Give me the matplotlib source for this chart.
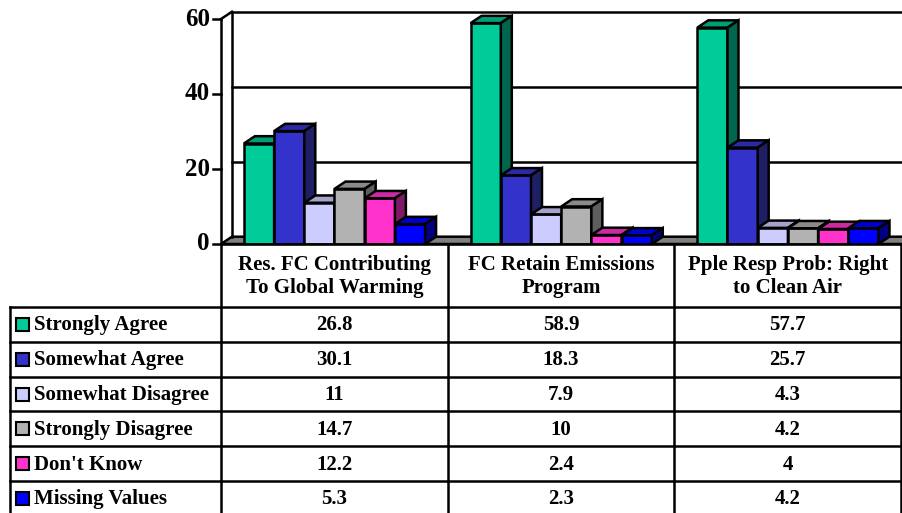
import matplotlib
matplotlib.use("Agg")
import matplotlib.pyplot as plt
from matplotlib.patches import Polygon, Rectangle

plt.rcParams['font.family'] = ['Liberation Serif', 'DejaVu Serif']
plt.rcParams['font.weight'] = 'bold'

# data
categories = ["Res. FC Contributing\nTo Global Warming",
              "FC Retain Emissions\nProgram",
              "Pple Resp Prob: Right\nto Clean Air"]
series = ["Strongly Agree", "Somewhat Agree", "Somewhat Disagree",
          "Strongly Disagree", "Don't Know", "Missing Values"]
strongly_agree = [26.8, 58.9, 57.7]
somewhat_agree = [30.1, 18.3, 25.7]
somewhat_disagree = [11, 7.9, 4.3]
strongly_disagree = [14.7, 10, 4.2]
dont_know = [12.2, 2.4, 4]
missing_values = [5.3, 2.3, 4.2]
values = [strongly_agree, somewhat_agree, somewhat_disagree,
          strongly_disagree, dont_know, missing_values]
labels_txt = [["26.8", "58.9", "57.7"], ["30.1", "18.3", "25.7"],
              ["11", "7.9", "4.3"], ["14.7", "10", "4.2"],
              ["12.2", "2.4", "4"], ["5.3", "2.3", "4.2"]]
yticks = [0, 20, 40, 60]

# front, top, side colours per series
front_c = ["#00CC99", "#3333CC", "#CCCCFF", "#B2B2B2", "#FF33CC", "#0000FF"]
top_c = ["#009E76", "#2A2AA3", "#A3A3CC", "#8A8A8A", "#CC2AA3", "#0000CC"]
side_c = ["#00664D", "#1F1F66", "#7A7A99", "#5E5E5E", "#7F1A66", "#000080"]

W, H = 902, 513
fig = plt.figure(figsize=(W / 100, H / 100), dpi=100)

# chart axes: front plane, x in category units, y in value units
x0, y0 = 221, 244
col_w = 226.7
px_per_unit = 3.75
ax = fig.add_axes([x0 / W, (H - y0) / H, 3 * col_w / W, y0 / H])
ax.set_xlim(0, 3)
ax.set_ylim(0, y0 / px_per_unit)
ax.axis('off')

dx = 11 / col_w
dy = 7.3 / px_per_unit
lw = 1.8
xe = 3.3  # beyond the figure edge

# floor
ax.add_patch(Polygon([(0, 0), (xe, 0), (xe + dx, dy), (dx, dy)], closed=True,
                     facecolor="#808080", edgecolor="black", lw=lw,
                     clip_on=False, zorder=1))
# back wall lines
for v in yticks[1:]:
    ax.plot([dx, xe], [v + dy, v + dy], color="black", lw=lw, clip_on=False, zorder=1)
ax.plot([dx, dx], [dy, 60 + dy], color="black", lw=lw, clip_on=False, zorder=1)
ax.plot([0, dx], [60, 60 + dy], color="black", lw=lw, clip_on=False, zorder=1)
ax.plot([0, 0], [0, 60], color="black", lw=lw, clip_on=False, zorder=1)

# ticks and labels
tick_len = 8 / col_w
for v in yticks:
    ax.plot([-tick_len, 0], [v, v], color="black", lw=lw, clip_on=False)
    ax.text(-tick_len - 3 / col_w, v, str(v), ha='right', va='center',
            fontsize=18, fontweight='bold')

# bars
bw = 0.1332
start = 0.101
z = 3
for i in range(3):
    for j in range(6):
        h = values[j][i]
        x = i + start + j * bw
        ax.bar(x, h, bw, align='edge', color=front_c[j], edgecolor='black',
               lw=lw, zorder=z)
        ax.add_patch(Polygon([(x, h), (x + dx, h + dy), (x + bw + dx, h + dy), (x + bw, h)],
                             closed=True, facecolor=top_c[j], edgecolor='black',
                             lw=lw, zorder=z, joinstyle='miter'))
        ax.add_patch(Polygon([(x + bw, 0), (x + bw, h), (x + bw + dx, h + dy), (x + bw + dx, dy)],
                             closed=True, facecolor=side_c[j], edgecolor='black',
                             lw=lw, zorder=z, joinstyle='miter'))
        z += 1

# data table (figure pixel coordinates)
tx = fig.add_axes([0, 0, 1, 1])
tx.set_xlim(0, W)
tx.set_ylim(H, 0)
tx.axis('off')

left = 10
right = x0 + 3 * col_w
head_bot = 307
row_h = 34.8
n_rows = len(series)
bottom = head_bot + n_rows * row_h

tx.plot([x0, right], [y0, y0], color='black', lw=lw)
for k in range(n_rows + 1):
    yy = head_bot + k * row_h
    tx.plot([left, right], [yy, yy], color='black', lw=lw)
for c in range(4):
    xx = x0 + c * col_w
    tx.plot([xx, xx], [y0, bottom], color='black', lw=lw)
tx.plot([left, left], [head_bot, bottom], color='black', lw=lw)

for c, cat in enumerate(categories):
    tx.text(x0 + (c + 0.5) * col_w, (y0 + head_bot) / 2 + 1, cat, ha='center',
            va='center', fontsize=15, fontweight='bold', linespacing=1.25)

for r, name in enumerate(series):
    yc = head_bot + (r + 0.5) * row_h
    tx.add_patch(Rectangle((16, yc - 6.5), 13, 13, facecolor=front_c[r],
                           edgecolor='black', lw=1.5))
    tx.text(34, yc + 1, name, ha='left', va='center', fontsize=15, fontweight='bold')
    for c in range(3):
        tx.text(x0 + (c + 0.5) * col_w, yc + 1, labels_txt[r][c], ha='center',
                va='center', fontsize=15, fontweight='bold')

fig.savefig("out.png", dpi=100)
